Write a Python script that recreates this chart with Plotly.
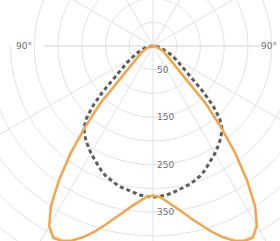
import numpy as np
import plotly.graph_objects as go

# Polar photometric data (angle from nadir, degrees; symmetric C0/C180 half-planes)
ANGLES = [0, 2.5, 5, 7.5, 10, 12.5, 15, 17.5, 20, 22.5, 25, 27.5, 30, 32.5, 35, 37.5,
          40, 42.5, 45, 47.5, 50, 52.5, 55, 57.5, 60, 65, 70, 75, 80, 85, 90]
SOLID_VALUES = [315, 318, 328, 340, 355, 372, 390, 410, 428, 443, 453, 455, 437, 400, 345, 285,
                222, 165, 95, 70, 55, 45, 37, 32, 28, 20, 14, 9, 5, 2, 0]
DOTTED_VALUES = [318, 317, 315, 312, 308, 305, 301, 296, 291, 284, 276, 268, 261, 253, 245, 236,
                 226, 208, 180, 145, 108, 88, 75, 64, 55, 40, 28, 18, 10, 4, 0]
RADIAL_TICKS = [50, 150, 250, 350]
GRID_RADII = list(range(50, 801, 50))
RAY_ANGLES = list(range(-180, 180, 30))
ANGLE_LABEL = "90°"

SOLID_COLOR = "#f2a54a"
DOTTED_COLOR = "#5e5e5e"
CIRCLE_COLOR = "#e3e3e3"
RAY_COLOR = "#d9e3ea"
AXIS_COLOR = "#d2d2d2"
TEXT_COLOR = "#6f6f6f"


def to_xy(theta_deg, r):
    t = np.radians(np.asarray(theta_deg, dtype=float))
    r = np.asarray(r, dtype=float)
    return r * np.sin(t), -r * np.cos(t)


def full_curve(values):
    a = np.array(ANGLES, dtype=float)
    v = np.array(values, dtype=float)
    th = np.concatenate([-a[::-1], a[1:]])
    rr = np.concatenate([v[::-1], v[1:]])
    return to_xy(th, rr)


fig = go.Figure()

# grid circles
for r in GRID_RADII:
    if r <= 250:
        th = np.linspace(-180, 180, 361)
    else:
        th = np.linspace(-90, 90, 181)
    x, y = to_xy(th, np.full(th.shape, r))
    fig.add_trace(go.Scatter(x=x, y=y, mode="lines", line=dict(color=CIRCLE_COLOR, width=1),
                             hoverinfo="skip", showlegend=False))

# grid rays
for a in RAY_ANGLES:
    length = 800 if abs(a) < 90 else 230
    color = AXIS_COLOR if abs(a) == 90 else RAY_COLOR
    x, y = to_xy([a, a], [0, length])
    fig.add_trace(go.Scatter(x=x, y=y, mode="lines", line=dict(color=color, width=1),
                             hoverinfo="skip", showlegend=False))

xd, yd = full_curve(DOTTED_VALUES)
fig.add_trace(go.Scatter(x=xd, y=yd, mode="lines",
                         line=dict(color=DOTTED_COLOR, width=3, dash="4px,3px"),
                         showlegend=False))
xs, ys = full_curve(SOLID_VALUES)
fig.add_trace(go.Scatter(x=xs, y=ys, mode="lines",
                         line=dict(color=SOLID_COLOR, width=2.5),
                         showlegend=False))

annotations = []
for v in RADIAL_TICKS:
    annotations.append(dict(x=5, y=-v, text=str(v), showarrow=False, xanchor="left",
                            yanchor="middle", font=dict(size=9, color=TEXT_COLOR,
                                                        family="DejaVu Sans")))
annotations.append(dict(x=-272, y=0, text=ANGLE_LABEL, showarrow=False,
                        xanchor="center", yanchor="middle",
                        font=dict(size=9, color=TEXT_COLOR, family="DejaVu Sans")))
annotations.append(dict(x=265, y=0, text=ANGLE_LABEL, showarrow=False,
                        xanchor="right", yanchor="middle",
                        font=dict(size=9, color=TEXT_COLOR, family="DejaVu Sans")))

fig.update_layout(
    width=280, height=241,
    margin=dict(l=0, r=0, t=0, b=0),
    paper_bgcolor="white", plot_bgcolor="white",
    xaxis=dict(range=[-322.1, 267.4], visible=False, fixedrange=True),
    yaxis=dict(range=[-410.5, 96.8], visible=False, fixedrange=True),
    annotations=annotations,
    showlegend=False,
)

fig.write_html("out.html", config={"displayModeBar": False},
               post_script="document.body.style.margin='0';document.body.style.overflow='hidden';")
